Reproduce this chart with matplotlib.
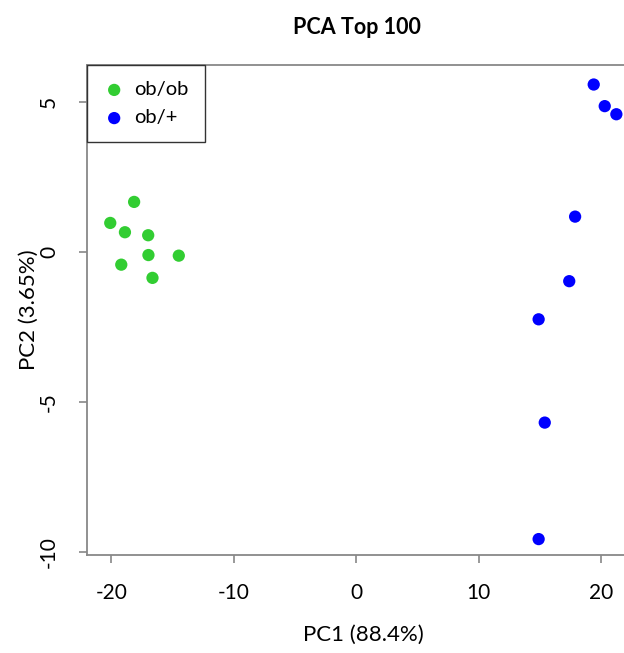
import numpy as np
import matplotlib.pyplot as plt

plt.rcParams.update({'font.size': 14, 'font.family': ['Lato', 'DejaVu Sans'],
                     'axes.unicode_minus': False})

# PCA scores
ob_ob_pc1 = [-18.15, -20.1, -18.9, -17.0, -16.98, -14.5, -19.2, -16.65]
ob_ob_pc2 = [1.66, 0.96, 0.65, 0.55, -0.11, -0.13, -0.43, -0.87]
ob_het_pc1 = [19.4, 20.3, 21.25, 17.88, 17.4, 14.9, 15.4, 14.9]
ob_het_pc2 = [5.57, 4.85, 4.58, 1.17, -0.98, -2.25, -5.69, -9.57]

xticks = [-20, -10, 0, 10, 20]
yticks = [-10, -5, 0, 5]

fig = plt.figure(figsize=(6.24, 6.53), dpi=100)
ax = fig.add_axes([87 / 624, 98 / 653, 552 / 624, 490 / 653])

ax.scatter(ob_ob_pc1, ob_ob_pc2, s=78, color='#32CD32', edgecolors='none', label='ob/ob', zorder=3)
ax.scatter(ob_het_pc1, ob_het_pc2, s=78, color='#0000FF', edgecolors='none', label='ob/+', zorder=3)

ax.set_xlim(-22.0, 23.1)
ax.set_ylim(-10.1, 6.22)
ax.set_xticks(xticks)
ax.set_yticks(yticks)
for lbl in ax.get_yticklabels():
    lbl.set_rotation(90)
    lbl.set_va('center')

for s in ax.spines.values():
    s.set_color('#888888')
    s.set_linewidth(1.3)
ax.tick_params(length=6, width=1.2, color='#888888', labelsize=15)
ax.tick_params(axis='x', pad=14)
ax.tick_params(axis='y', pad=14)

ax.set_xlabel('PC1 (88.4%)', fontsize=16, labelpad=16)
ax.set_ylabel('PC2 (3.65%)', fontsize=16, labelpad=0)
fig.text(357 / 624, 1 - 27 / 653, 'PCA Top 100', fontsize=15.5, fontweight='bold',
         ha='center', va='center')

leg = ax.legend(loc='upper left', borderaxespad=0, fancybox=False, framealpha=1,
                handletextpad=0.45, borderpad=0.8, handlelength=1.1, labelspacing=0.55,
                fontsize=14.5)
leg.get_frame().set_edgecolor('#333333')
leg.get_frame().set_linewidth(1.0)

plt.savefig('out.png', dpi=100)
